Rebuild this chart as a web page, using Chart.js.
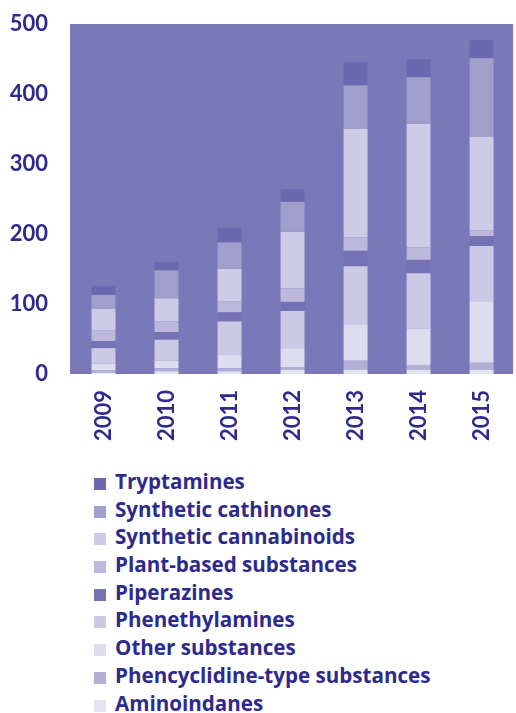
<!DOCTYPE html>
<html>
<head>
<meta charset="utf-8">
<script src="https://cdn.jsdelivr.net/npm/chart.js@4"></script>
<style>
  html, body { margin: 0; padding: 0; background: #ffffff; }
  #wrap { position: relative; width: 516px; height: 713px; }
  #box { position: absolute; left: 0; top: 0; width: 516px; height: 450px; }
  #legend { position: absolute; left: 94px; top: 468px; font-family: "Open Sans", Lato, sans-serif;
    font-weight: 700; font-size: 20.6px; color: #2D2A8E; }
  .row { height: 27.7px; line-height: 27.7px; white-space: nowrap; }
  .sw { display: inline-block; width: 12px; height: 12px; margin-right: 9px; vertical-align: -1px; }
</style>
</head>
<body>
<div id="wrap">
  <div id="box"><canvas id="myChart"></canvas></div>
  <div id="legend"></div>
</div>
<script>
const years = ["2009", "2010", "2011", "2012", "2013", "2014", "2015"];
const yTicks = [0, 100, 200, 300, 400, 500];

// stacked from bottom to top
const aminoindanes = [2, 4, 4, 6, 6, 6, 6];
const phencyclidine = [3, 4, 4, 4, 13, 7, 10];
const otherSubstances = [10, 11, 19, 27, 51, 52, 87];
const phenethylamines = [22, 30, 48, 53, 84, 79, 80];
const piperazines = [10, 11, 13, 13, 22, 19, 14];
const plantBased = [15, 15, 16, 19, 19, 18, 8];
const cannabinoids = [31, 33, 46, 81, 155, 176, 134];
const cathinones = [20, 40, 38, 43, 62, 67, 112];
const tryptamines = [13, 12, 21, 18, 34, 26, 26];

const seriesNames = ["Aminoindanes", "Phencyclidine-type substances", "Other substances",
  "Phenethylamines", "Piperazines", "Plant-based substances", "Synthetic cannabinoids",
  "Synthetic cathinones", "Tryptamines"];
const seriesValues = [aminoindanes, phencyclidine, otherSubstances, phenethylamines,
  piperazines, plantBased, cannabinoids, cathinones, tryptamines];
const seriesColors = ["#E4E3F2", "#B3B0D7", "#DEDDEF", "#CBC9E5", "#7471B5",
  "#BBB8DB", "#CDCBE6", "#A29ECB", "#6B68B0"];

const plotBg = "#7B78B9";
const textColor = "#2D2A8E";

const datasets = seriesNames.map((name, i) => {
  return {
    label: name,
    data: seriesValues[i],
    backgroundColor: seriesColors[i],
    borderWidth: 0,
    barPercentage: 0.38,
    categoryPercentage: 1,
  };
});

const plotBackground = {
  id: "plotBackground",
  beforeDraw(chart) {
    const { ctx, chartArea } = chart;
    ctx.save();
    ctx.fillStyle = plotBg;
    ctx.fillRect(chartArea.left - 2, chartArea.top, chartArea.right - chartArea.left + 2, chartArea.bottom - chartArea.top);
    ctx.restore();
  },
};

const myChart = document.getElementById("myChart");
window.chart = new Chart(myChart, {
  type: "bar",
  data: { labels: years, datasets },
  plugins: [plotBackground],
  options: {
    responsive: true,
    maintainAspectRatio: false,
    animation: false,
    layout: { padding: { top: 24, right: 0, left: 0, bottom: 0 } },
    plugins: { legend: { display: false }, tooltip: { enabled: false } },
    scales: {
      x: {
        stacked: true,
        grid: { display: false },
        border: { display: false },
        ticks: {
          color: textColor,
          font: { family: "Lato", size: 22, weight: "700" },
          minRotation: 90,
          maxRotation: 90,
          padding: 8,
        },
        afterFit(axis) { axis.height = 76; },
      },
      y: {
        stacked: true,
        min: 0,
        max: 500,
        grid: { display: false },
        border: { display: false },
        afterBuildTicks(axis) { axis.ticks = yTicks.map((v) => ({ value: v })); },
        ticks: {
          color: textColor,
          font: { family: "Lato", size: 22, weight: "700" },
          padding: 16,
        },
        afterFit(axis) {
          axis.width = 72;
          axis.paddingTop = 0;
          axis.paddingBottom = 0;
        },
      },
    },
  },
});

// legend, top to bottom in reverse stacking order
let html = "";
for (let i = seriesNames.length - 1; i >= 0; i--) {
  html += `<div class="row"><span class="sw" style="background:${seriesColors[i]}"></span>${seriesNames[i]}</div>`;
}
document.getElementById("legend").innerHTML = html;
</script>
</body>
</html>
